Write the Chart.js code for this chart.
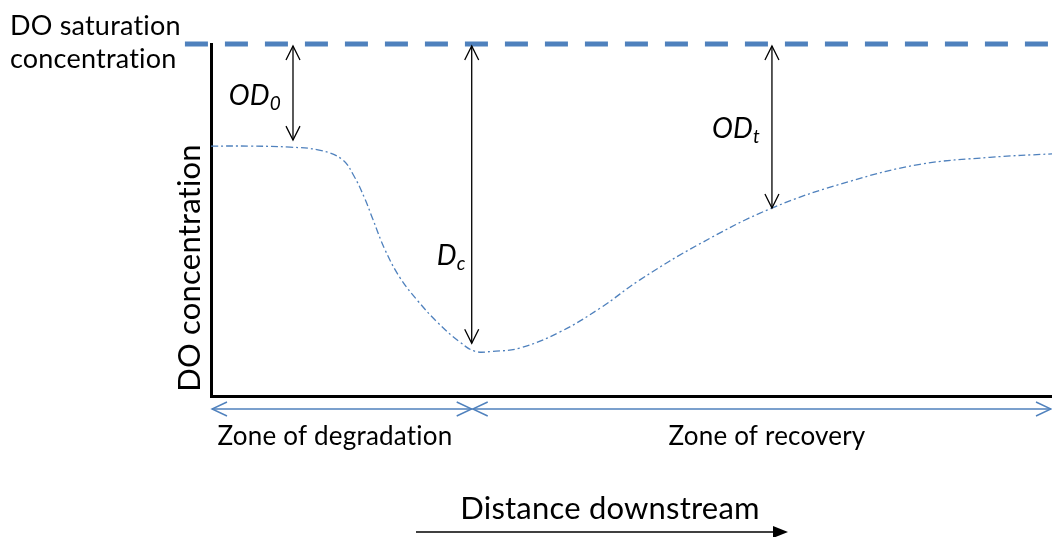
<!DOCTYPE html>
<html>
<head>
<meta charset="utf-8">
<script src="https://cdn.jsdelivr.net/npm/chart.js@4.4.0/dist/chart.umd.min.js"></script>
<style>
  html, body { margin: 0; padding: 0; background: #fff; }
  #wrap { width: 1052px; height: 537px; }
</style>
</head>
<body>
<div id="wrap"><canvas id="chart" width="1052" height="537"></canvas></div>
<script>
// DO sag curve (distance 0..100, concentration 0..10, saturation = 10)
const distance = [0, 4.6, 9.4, 13.0, 15.6, 17.0, 18.3, 19.2, 20.7, 22.5, 24.6, 26.9, 29.5, 31.4, 33.5, 36.7, 41.5, 46.3, 51.0, 58.1, 66.7, 76.0, 84.3, 92.6, 100];
const doConc   = [7.10, 7.10, 7.07, 6.98, 6.72, 6.25, 5.60, 5.05, 4.15, 3.35, 2.70, 2.10, 1.55, 1.27, 1.27, 1.36, 1.82, 2.50, 3.30, 4.32, 5.34, 6.10, 6.58, 6.78, 6.88];

const satDistance = [-3.1, 100];
const satConc = [10, 10];

// deficit arrows: x position, bottom concentration, label, subscript
const deficitX = [9.75, 31.0, 66.7];
const deficitBottom = [7.27, 1.50, 5.34];
const deficitLabels = ['OD', 'D', 'OD'];
const deficitSubs = ['0', 'c', 't'];

// zones along the x axis
const zoneStart = [0, 31.0];
const zoneEnd = [31.0, 100];
const zoneLabels = ['Zone of degradation', 'Zone of recovery'];

const blue = '#4f81bd';
const FONT = 'Lato, "Open Sans", sans-serif';

function arrowHead(ctx, tx, ty, dx, dy, len, half) {
  // open V head at (tx,ty) pointing along (dx,dy)
  const n = Math.hypot(dx, dy); dx /= n; dy /= n;
  const px = -dy, py = dx;
  ctx.beginPath();
  ctx.moveTo(tx - dx * len + px * half, ty - dy * len + py * half);
  ctx.lineTo(tx, ty);
  ctx.lineTo(tx - dx * len - px * half, ty - dy * len - py * half);
  ctx.stroke();
}

function subText(ctx, x, y, main, sub, size, alignRight) {
  ctx.font = 'italic ' + size + 'px ' + FONT;
  const w1 = ctx.measureText(main).width;
  ctx.font = 'italic ' + Math.round(size * 0.68) + 'px ' + FONT;
  const w2 = ctx.measureText(sub).width;
  let x0 = alignRight ? x - w1 - w2 : x;
  ctx.textAlign = 'left';
  ctx.textBaseline = 'alphabetic';
  ctx.font = 'italic ' + size + 'px ' + FONT;
  ctx.fillText(main, x0, y);
  ctx.font = 'italic ' + Math.round(size * 0.68) + 'px ' + FONT;
  ctx.fillText(sub, x0 + w1, y + size * 0.18);
}

const annotations = {
  id: 'annotations',
  afterDraw(chart) {
    const ctx = chart.ctx;
    const xs = chart.scales.x, ys = chart.scales.y;
    ctx.save();
    ctx.fillStyle = '#000';
    // keep "ti" from turning into a ligature
    if ('letterSpacing' in ctx) ctx.letterSpacing = '0.2px';

    // deficit arrows
    ctx.strokeStyle = '#000';
    ctx.lineWidth = 1.3;
    const yTop = ys.getPixelForValue(10) + 2;
    deficitX.forEach((v, i) => {
      const x = xs.getPixelForValue(v);
      const yb = ys.getPixelForValue(deficitBottom[i]);
      ctx.beginPath();
      ctx.moveTo(x, yTop);
      ctx.lineTo(x, yb);
      ctx.stroke();
      arrowHead(ctx, x, yTop, 0, -1, 14, 7);
      arrowHead(ctx, x, yb, 0, 1, 14, 7);
    });
    const labY = [105, 265, 138];
    const gap = [12, 6, 12];
    deficitX.forEach((v, i) => {
      const x = xs.getPixelForValue(v);
      subText(ctx, x - gap[i], labY[i], deficitLabels[i], deficitSubs[i], 28, true);
    });

    // zone arrows
    ctx.strokeStyle = blue;
    ctx.lineWidth = 1.4;
    const zy = ys.getPixelForValue(0) + 13;
    zoneStart.forEach((s, i) => {
      const x1 = xs.getPixelForValue(s) + 1;
      const x2 = xs.getPixelForValue(zoneEnd[i]) - (i === zoneStart.length - 1 ? 1 : 0);
      ctx.beginPath();
      ctx.moveTo(x1, zy);
      ctx.lineTo(x2, zy);
      ctx.stroke();
      arrowHead(ctx, x1, zy, -1, 0, 15, 7);
      arrowHead(ctx, x2, zy, 1, 0, 15, 7);
      ctx.fillStyle = '#000';
      ctx.font = '26px ' + FONT;
      ctx.textAlign = 'center';
      ctx.textBaseline = 'alphabetic';
      ctx.fillText(zoneLabels[i], i === 0 ? 335 : 767, 445);
    });

    // left labels
    ctx.fillStyle = '#000';
    ctx.font = '27px ' + FONT;
    ctx.textAlign = 'left';
    ctx.fillText('DO saturation', 10, 35);
    ctx.fillText('concentration', 10, 68);

    ctx.save();
    ctx.translate(200, 268);
    ctx.rotate(-Math.PI / 2);
    ctx.textAlign = 'center';
    ctx.font = '31px ' + FONT;
    ctx.fillText('DO concentration', 0, 0);
    ctx.restore();

    // distance downstream
    ctx.font = '31px ' + FONT;
    ctx.textAlign = 'center';
    ctx.fillText('Distance downstream', 610, 519);
    ctx.strokeStyle = '#000';
    ctx.lineWidth = 1.5;
    ctx.beginPath();
    ctx.moveTo(416, 532);
    ctx.lineTo(775, 532);
    ctx.stroke();
    ctx.beginPath();
    ctx.moveTo(788, 532);
    ctx.lineTo(773, 526);
    ctx.lineTo(773, 538);
    ctx.closePath();
    ctx.fill();

    ctx.restore();
  }
};

new Chart(document.getElementById('chart'), {
  type: 'line',
  data: {
    datasets: [
      {
        label: 'DO',
        data: distance.map((d, i) => ({ x: d, y: doConc[i] })),
        borderColor: blue,
        borderWidth: 1.3,
        borderDash: [7, 3, 2, 3],
        pointRadius: 0,
        tension: 0.4,
        fill: false
      },
      {
        label: 'Saturation',
        data: satDistance.map((d, i) => ({ x: d, y: satConc[i] })),
        borderColor: blue,
        borderWidth: 5,
        borderDash: [23, 17],
        borderCapStyle: 'butt',
        pointRadius: 0,
        clip: false
      }
    ]
  },
  options: {
    responsive: false,
    animation: false,
    layout: { padding: { left: 211, right: 0, top: 44, bottom: 141 } },
    plugins: { legend: { display: false }, tooltip: { enabled: false } },
    scales: {
      x: {
        type: 'linear', min: 0, max: 100,
        ticks: { display: false },
        grid: { display: false, drawTicks: false },
        border: { display: true, color: '#000', width: 3 }
      },
      y: {
        min: 0, max: 10,
        ticks: { display: false },
        grid: { display: false, drawTicks: false },
        border: { display: true, color: '#000', width: 3 }
      }
    }
  },
  plugins: [annotations]
});
</script>
</body>
</html>
